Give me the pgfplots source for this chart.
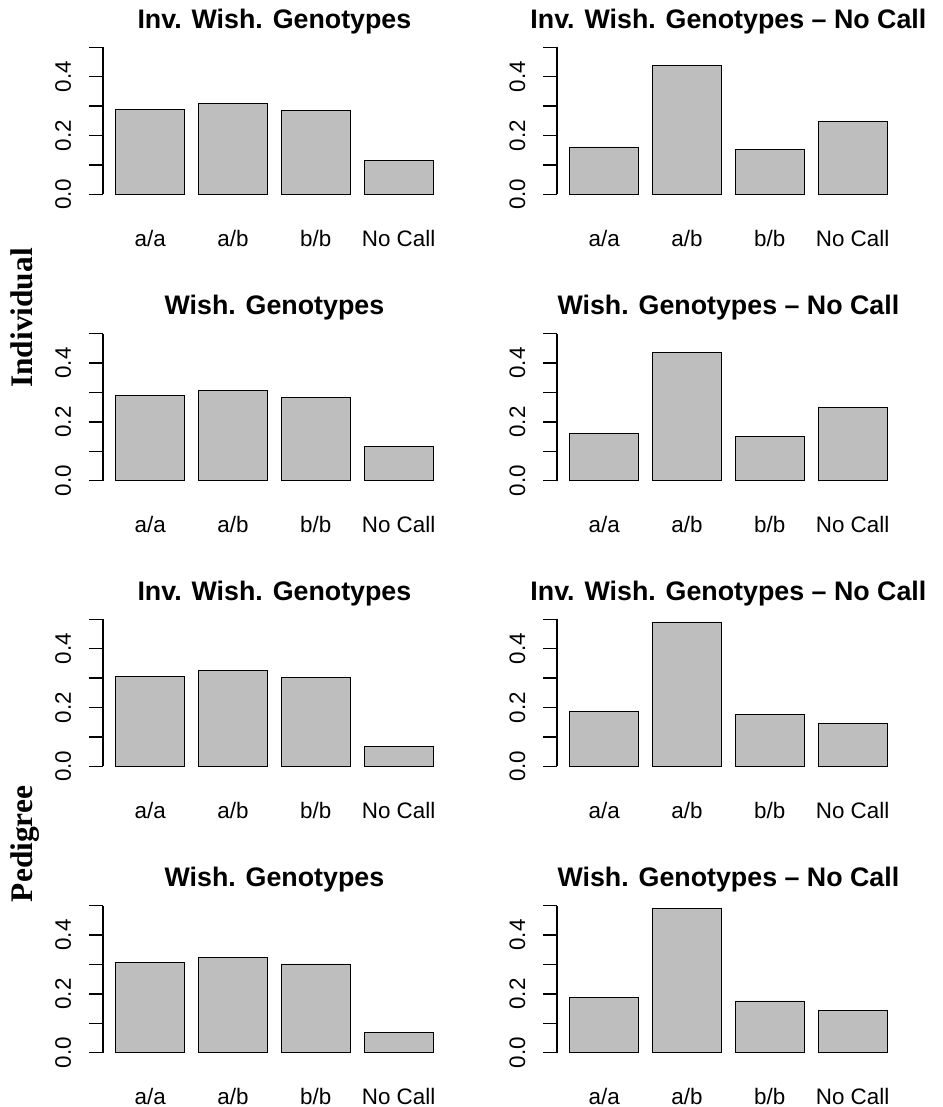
\documentclass[border=0pt]{standalone}
\usepackage{fontspec}
\setmainfont{Liberation Sans}
\newfontfamily\rowfont{Liberation Serif}
\usepackage{pgfplots}
\pgfplotsset{compat=1.18}
\definecolor{rgrey}{HTML}{BEBEBE}
\pgfplotsset{rpanel/.style={
  scale only axis, width=171.4pt, height=73.5pt,
  xmin=0.016, xmax=4.984, ymin=0, ymax=0.5,
  anchor=south west,
  axis y line*=left, axis x line*=bottom,
  x axis line style={draw=none},
  y axis line style={line width=0.7pt, black},
  xtick={0.7,1.9,3.1,4.3}, xticklabels={a/a,a/b,b/b,No Call},
  xtick style={draw=none},
  ytick={0,0.1,0.2,0.3,0.4,0.5},
  yticklabels={0.0,,0.2,,0.4,},
  tick align=outside, major tick length=7pt,
  ytick style={line width=0.7pt, black},
  ticklabel style={font=\fontsize{11.2pt}{13pt}\selectfont},
  yticklabel style={xshift=-9pt, rotate=90, anchor=base},
  xticklabel style={anchor=base, yshift=-19pt},
  title style={font=\fontsize{13.4pt}{16pt}\selectfont\bfseries, anchor=base, yshift=3.6pt},
  ybar, bar width=1,
  clip=false,
  cycle list={{fill=rgrey, draw=black, line width=0.7pt}},
}}
\begin{document}
\begin{tikzpicture}
\path[use as bounding box] (0,0) rectangle (471pt,553.5pt);
% Row 1
\begin{axis}[rpanel, at={(51.5pt,456.35pt)}, title={Inv. Wish. Genotypes}]
\addplot coordinates {(0.7,0.289) (1.9,0.308) (3.1,0.284) (4.3,0.115)};
\end{axis}
\begin{axis}[rpanel, at={(278.5pt,456.35pt)}, title={Inv. Wish. Genotypes – No Call}]
\addplot coordinates {(0.7,0.161) (1.9,0.437) (3.1,0.152) (4.3,0.249)};
\end{axis}
% Row 2
\begin{axis}[rpanel, at={(51.5pt,313.15pt)}, title={Wish. Genotypes}]
\addplot coordinates {(0.7,0.289) (1.9,0.308) (3.1,0.284) (4.3,0.115)};
\end{axis}
\begin{axis}[rpanel, at={(278.5pt,313.15pt)}, title={Wish. Genotypes – No Call}]
\addplot coordinates {(0.7,0.161) (1.9,0.437) (3.1,0.152) (4.3,0.249)};
\end{axis}
% Row 3
\begin{axis}[rpanel, at={(51.5pt,170.35pt)}, title={Inv. Wish. Genotypes}]
\addplot coordinates {(0.7,0.307) (1.9,0.325) (3.1,0.302) (4.3,0.067)};
\end{axis}
\begin{axis}[rpanel, at={(278.5pt,170.35pt)}, title={Inv. Wish. Genotypes – No Call}]
\addplot coordinates {(0.7,0.187) (1.9,0.491) (3.1,0.176) (4.3,0.145)};
\end{axis}
% Row 4
\begin{axis}[rpanel, at={(51.5pt,27.15pt)}, title={Wish. Genotypes}]
\addplot coordinates {(0.7,0.307) (1.9,0.325) (3.1,0.302) (4.3,0.068)};
\end{axis}
\begin{axis}[rpanel, at={(278.5pt,27.15pt)}, title={Wish. Genotypes – No Call}]
\addplot coordinates {(0.7,0.187) (1.9,0.491) (3.1,0.176) (4.3,0.145)};
\end{axis}
\node[rotate=90, anchor=base, font=\rowfont\bfseries\fontsize{15.7pt}{18pt}\selectfont] at (16.5pt,394.5pt) {Individual};
\node[rotate=90, anchor=base, font=\rowfont\bfseries\fontsize{15.7pt}{18pt}\selectfont] at (16.5pt,131.5pt) {Pedigree};
\end{tikzpicture}
\end{document}
